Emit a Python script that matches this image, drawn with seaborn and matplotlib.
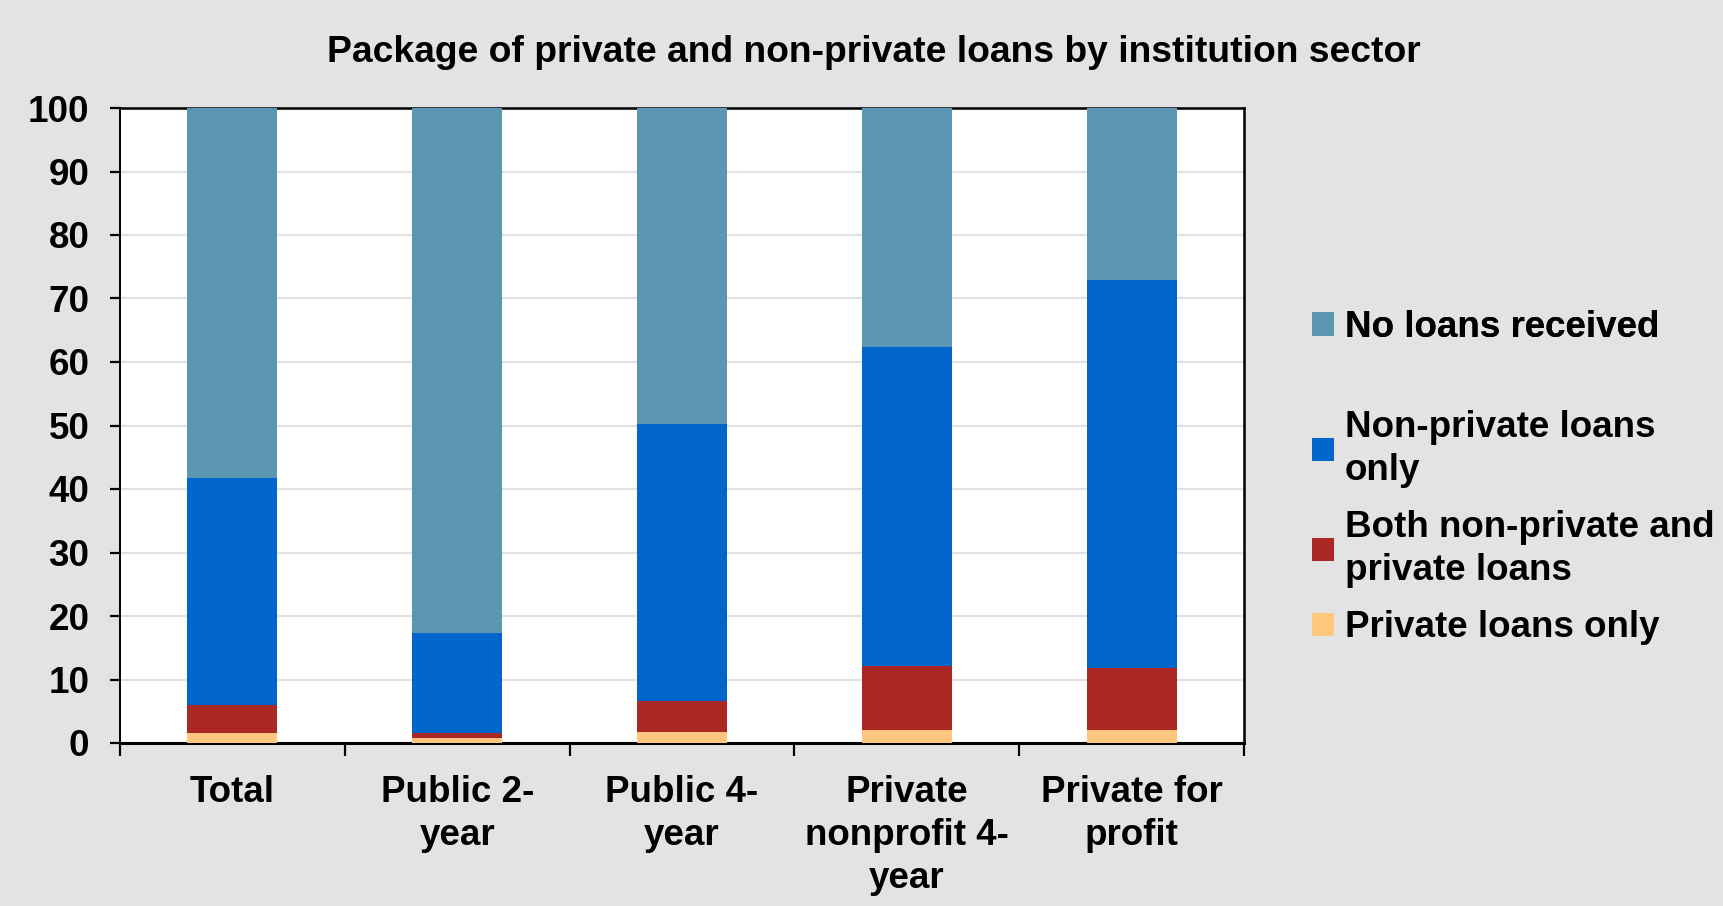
import pandas as pd
import matplotlib.pyplot as plt
import seaborn as sns
from matplotlib.patches import Patch

# Values (percent of students)
sectors = ["Total", "Public 2-\nyear", "Public 4-\nyear", "Private\nnonprofit 4-\nyear", "Private for\nprofit"]
private_only = [1.5, 0.8, 1.8, 2.1, 2.0]
both_loans = [4.5, 0.8, 4.8, 10.0, 9.8]
nonprivate_only = [35.8, 15.8, 43.7, 50.3, 61.1]
no_loans = [58.2, 82.6, 49.7, 37.6, 27.1]

series_names = ["No loans received", "Non-private loans\nonly",
                "Both non-private and\nprivate loans", "Private loans only"]
colors = ["#5B97B3", "#0066CC", "#AA2724", "#FFC67E"]

df = pd.DataFrame({
    "sector": sectors,
    "private": private_only,
    "both": both_loans,
    "nonprivate": nonprivate_only,
    "none": no_loans,
})
# cumulative heights, drawn from the tallest layer down
df["cum_private"] = df["private"]
df["cum_both"] = df["cum_private"] + df["both"]
df["cum_nonprivate"] = df["cum_both"] + df["nonprivate"]
df["cum_none"] = df["cum_nonprivate"] + df["none"]

sns.set_style("white")
plt.rcParams["font.family"] = ["Liberation Sans", "DejaVu Sans"]
plt.rcParams["font.weight"] = "bold"
plt.rcParams["text.color"] = "black"
plt.rcParams["xtick.color"] = "black"
plt.rcParams["ytick.color"] = "black"

FS = 26.5

fig = plt.figure(figsize=(17.23, 9.06), dpi=100, facecolor="#E3E3E3")
ax = fig.add_axes([120 / 1723, 1 - 743 / 906, (1244 - 120) / 1723, (743 - 108) / 906])
ax.set_facecolor("white")

for col, c in zip(["cum_none", "cum_nonprivate", "cum_both", "cum_private"], colors):
    sns.barplot(data=df, x="sector", y=col, color=c, width=0.4, ax=ax,
                saturation=1, linewidth=0, zorder=3)

ax.set_xlim(-0.5, 4.5)
ax.set_ylim(0, 100)
ax.set_yticks(range(0, 101, 10))
ax.yaxis.grid(True, color="#E2E2E2", linewidth=1.6, zorder=0)
ax.set_axisbelow(True)
ax.set_xlabel("")
ax.set_ylabel("")

# category labels centered under bars, tick marks at the category boundaries
ax.set_xticks(range(5))
ax.set_xticklabels(sectors, fontsize=FS, fontweight="bold", linespacing=1.3)
ax.set_xticks([i - 0.5 for i in range(6)], minor=True)
ax.tick_params(axis="x", which="major", bottom=True, length=0, pad=23)
ax.tick_params(axis="x", which="minor", bottom=True, length=9, width=1.6,
               color="black", direction="out")
ax.tick_params(axis="y", left=True, length=7, width=1.6, color="black", direction="out",
               labelsize=FS, pad=15)
for lab in ax.get_yticklabels():
    lab.set_fontweight("bold")

for side in ["left", "right", "top", "bottom"]:
    ax.spines[side].set_visible(True)
    ax.spines[side].set_color("black")
ax.spines["left"].set_linewidth(1.4)
ax.spines["right"].set_linewidth(1.8)
ax.spines["top"].set_linewidth(1.8)
ax.spines["bottom"].set_linewidth(2.2)

fig.suptitle("Package of private and non-private loans by institution sector",
             x=0.507, y=0.942, va="center", fontsize=26.8, fontweight="bold")

# legend: first entry sits apart from the other three
handles = [Patch(facecolor=c, edgecolor="none") for c in colors]
leg1 = fig.legend(handles[:1], series_names[:1], loc="center left",
                  bbox_to_anchor=(1312 / 1723, 1 - 327.5 / 906), frameon=False,
                  fontsize=FS, handlelength=0.6, handleheight=0.6,
                  handletextpad=0.3, borderpad=0, borderaxespad=0)
fig.add_artist(leg1)
fig.legend(handles[1:], series_names[1:], loc="upper left",
           bbox_to_anchor=(1312 / 1723, 1 - 410 / 906), frameon=False,
           fontsize=FS, handlelength=0.6, handleheight=0.6,
           handletextpad=0.3, labelspacing=0.6, borderpad=0, borderaxespad=0)
for leg in fig.legends:
    for t in leg.get_texts():
        t.set_fontweight("bold")
        t.set_linespacing(1.3)

plt.savefig("out.png", dpi=100, facecolor=fig.get_facecolor())
plt.close()
